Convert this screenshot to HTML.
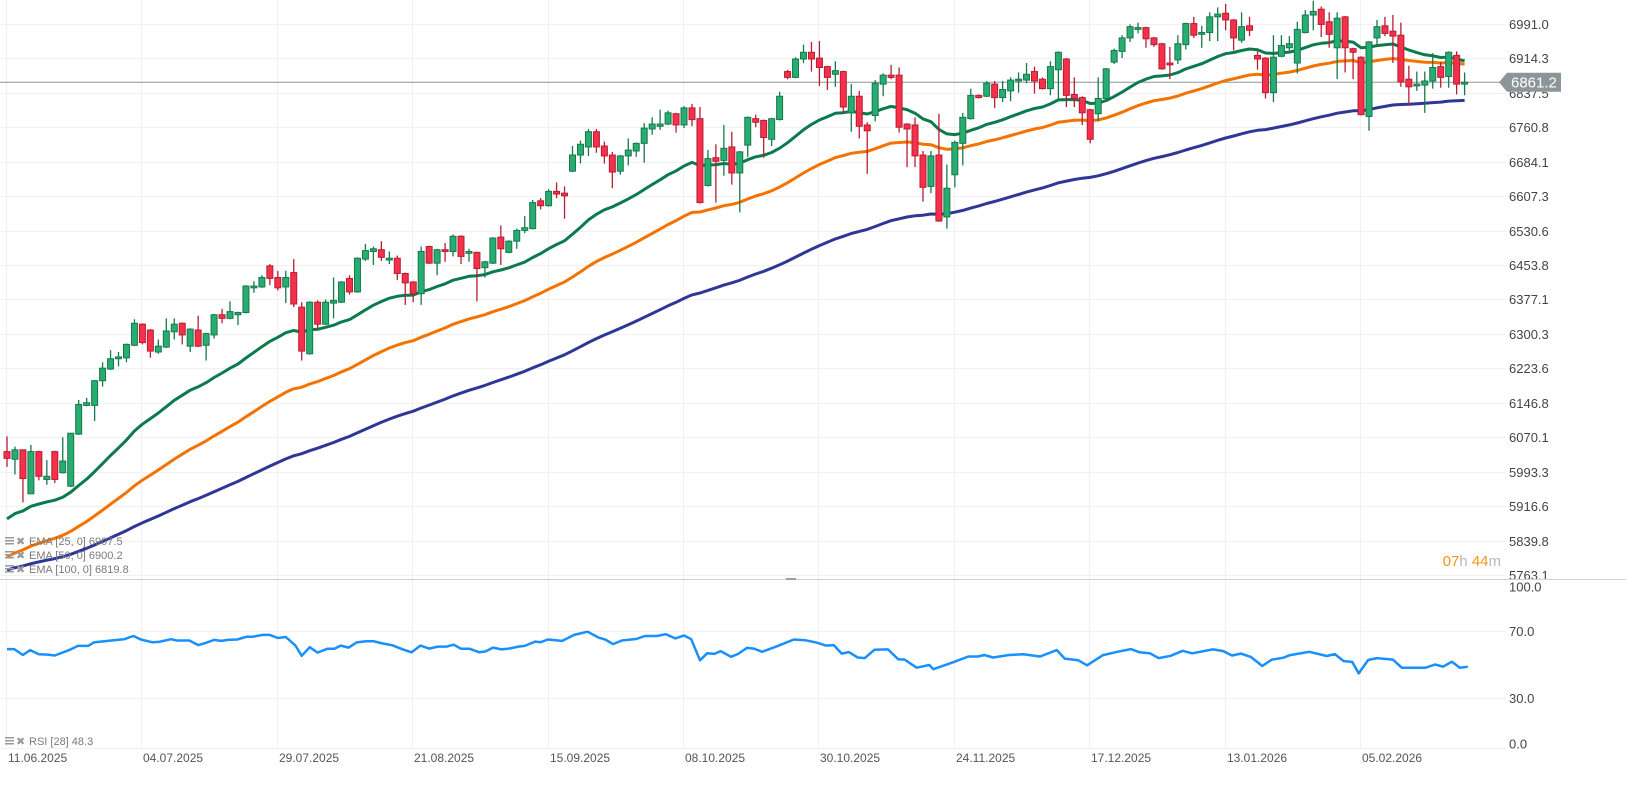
<!DOCTYPE html>
<html>
<head>
<meta charset="utf-8">
<style>
body{margin:0;background:#fff;font-family:"Liberation Sans",sans-serif}
svg{display:block}
</style>
</head>
<body>
<svg id="chart" width="1626" height="802" xmlns="http://www.w3.org/2000/svg" font-family="Liberation Sans, sans-serif">
  <defs>
    <clipPath id="mainClip"><rect x="0" y="0" width="1506" height="579"/></clipPath>
    <clipPath id="rsiClip"><rect x="0" y="580" width="1506" height="170"/></clipPath>
  </defs>
  <g id="grid"></g>
  <g id="priceAxis"></g>
  <g id="rsiAxis"></g>
  <g id="dateAxis"></g>
  <line x1="0" y1="579.5" x2="1626" y2="579.5" stroke="#cfd2d4" stroke-width="1"/>
  <rect x="786" y="578" width="10" height="2" fill="#9aa0a4"/>
  <line id="curLine" x1="0" x2="1506" stroke="#8d9599" stroke-width="1"/>
  <g id="emas" clip-path="url(#mainClip)"></g>
  <g id="candles" clip-path="url(#mainClip)"></g>
  <g id="rsi" clip-path="url(#rsiClip)"></g>
  <g id="pill"></g>

  <g font-size="11" fill="#7a7a7a">
    <g>
      <rect x="5" y="537" width="9" height="1.5" fill="#9a9a9a"/><rect x="5" y="540" width="9" height="1.5" fill="#9a9a9a"/><rect x="5" y="543" width="9" height="1.5" fill="#9a9a9a"/>
      <text x="16" y="545" fill="#9a9a9a" font-size="11">✖</text>
      <text x="29" y="545">EMA [25, 0] 6907.5</text>
    </g>
    <g>
      <rect x="5" y="551" width="9" height="1.5" fill="#9a9a9a"/><rect x="5" y="554" width="9" height="1.5" fill="#9a9a9a"/><rect x="5" y="557" width="9" height="1.5" fill="#9a9a9a"/>
      <text x="16" y="559" fill="#9a9a9a" font-size="11">✖</text>
      <text x="29" y="559">EMA [50, 0] 6900.2</text>
    </g>
    <g>
      <rect x="5" y="565" width="9" height="1.5" fill="#9a9a9a"/><rect x="5" y="568" width="9" height="1.5" fill="#9a9a9a"/><rect x="5" y="571" width="9" height="1.5" fill="#9a9a9a"/>
      <text x="16" y="573" fill="#9a9a9a" font-size="11">✖</text>
      <text x="29" y="573">EMA [100, 0] 6819.8</text>
    </g>
  </g>
  <g font-size="11" fill="#7a7a7a">
    <rect x="5" y="737" width="9" height="1.5" fill="#9a9a9a"/><rect x="5" y="740" width="9" height="1.5" fill="#9a9a9a"/><rect x="5" y="743" width="9" height="1.5" fill="#9a9a9a"/>
    <text x="16" y="745" fill="#9a9a9a">✖</text>
    <text x="29" y="745">RSI [28] 48.3</text>
  </g>
  <text x="1501" y="566" text-anchor="end" font-size="15"><tspan fill="#f7931a">07</tspan><tspan fill="#b8b8b8">h </tspan><tspan fill="#f7931a">44</tspan><tspan fill="#b8b8b8">m</tspan></text>
</svg>
<script>
const priceTicks=[6991.0,6914.3,6837.5,6760.8,6684.1,6607.3,6530.6,6453.8,6377.1,6300.3,6223.6,6146.8,6070.1,5993.3,5916.6,5839.8,5763.1];
const rsiTicks=[100,70,30,0];
const dateLabels=["11.06.2025","04.07.2025","29.07.2025","21.08.2025","15.09.2025","08.10.2025","30.10.2025","24.11.2025","17.12.2025","13.01.2026","05.02.2026"];
const dateIdx=[0,17,34,51,68,85,102,119,136,153,170];

const open=[6038,6021,6042,5944,6038,5976,6038,5991,5961,6077,
6141,6141,6196,6222,6245,6247,6275,6322,6309,6260,
6271,6305,6324,6273,6309,6275,6298,6343,6335,6343,
6348,6403,6405,6452,6426,6405,6437,6360,6256,6371,
6322,6369,6371,6424,6394,6467,6484,6488,6465,6469,
6435,6416,6390,6495,6458,6488,6484,6518,6480,6482,
6448,6458,6516,6482,6507,6531,6535,6597,6586,6618,
6614,6663,6699,6717,6751,6719,6699,6663,6697,6708,
6725,6757,6763,6768,6791,6766,6804,6780,6631,6693,
6687,6717,6659,6721,6780,6776,6734,6778,6885,6872,
6913,6928,6915,6896,6879,6885,6793,6830,6766,6787,
6857,6877,6877,6768,6766,6699,6629,6699,6561,6655,
6725,6780,6832,6830,6857,6827,6842,6864,6866,6885,
6868,6847,6889,6913,6834,6827,6800,6791,6825,6906,
6930,6960,6979,6983,6960,6947,6904,6911,6945,6992,
6968,6972,7007,7015,7000,6955,6987,6921,6915,6838,
6919,6938,6904,6972,7011,7024,6996,6938,7007,6936,
6917,6785,6960,6987,6975,6966,6868,6853,6855,6864,
6896,6874,6921,6857];
const high=[6072,6049,6042,6053,6040,6019,6040,6070,6079,6153,
6158,6198,6237,6264,6260,6279,6333,6324,6311,6288,
6335,6335,6326,6313,6341,6303,6345,6356,6373,6350,
6409,6418,6431,6456,6441,6441,6467,6371,6373,6375,
6377,6426,6418,6431,6471,6501,6495,6507,6484,6475,
6437,6418,6495,6497,6490,6503,6522,6520,6490,6484,
6463,6516,6542,6509,6535,6563,6599,6603,6623,6638,
6629,6719,6731,6757,6757,6729,6706,6699,6736,6727,
6770,6783,6800,6798,6793,6808,6813,6806,6710,6723,
6766,6751,6708,6785,6789,6778,6782,6840,6889,6917,
6945,6951,6953,6898,6908,6887,6857,6842,6772,6866,
6881,6900,6894,6770,6783,6708,6708,6791,6678,6731,
6793,6847,6834,6864,6864,6864,6872,6883,6904,6896,
6872,6908,6930,6915,6872,6830,6802,6872,6893,6936,
6966,6990,6994,6985,6962,6949,6940,6966,6994,7007,
6987,7017,7028,7036,7002,7017,7007,6930,6917,6966,
6966,6964,6996,7022,7043,7030,7017,7017,7009,6938,
6919,6953,7000,7007,7011,6994,6898,6885,6885,6926,
6906,6930,6930,6883];
const low=[6004,5987,5925,5944,5974,5964,5968,5989,5959,6075,
6139,6106,6183,6220,6228,6237,6273,6277,6247,6256,
6269,6288,6277,6260,6271,6241,6290,6324,6333,6320,
6346,6392,6403,6409,6397,6369,6360,6241,6254,6313,
6320,6335,6369,6388,6392,6463,6454,6463,6456,6420,
6365,6371,6365,6456,6431,6461,6473,6456,6461,6373,
6426,6456,6454,6480,6490,6525,6533,6578,6584,6603,
6557,6661,6680,6697,6704,6680,6625,6655,6676,6695,
6682,6744,6755,6766,6749,6759,6763,6591,6629,6593,
6653,6633,6571,6695,6761,6693,6719,6776,6868,6870,
6904,6885,6853,6844,6851,6791,6751,6736,6657,6774,
6830,6868,6749,6672,6672,6595,6614,6550,6535,6627,
6676,6778,6825,6828,6804,6817,6819,6838,6859,6836,
6845,6832,6825,6806,6806,6766,6725,6774,6823,6902,
6915,6951,6970,6938,6940,6889,6868,6902,6934,6960,
6938,6953,6953,6977,6932,6949,6964,6889,6825,6817,
6917,6932,6881,6970,6977,6962,6938,6868,6883,6868,
6787,6753,6940,6964,6904,6851,6810,6842,6793,6847,
6849,6849,6834,6832];
const close=[6023,6042,5978,6038,5983,5983,5976,6017,6079,6143,
6147,6196,6224,6245,6249,6277,6324,6281,6262,6273,
6307,6322,6298,6311,6273,6301,6343,6335,6350,6348,
6407,6407,6426,6424,6403,6426,6367,6262,6371,6322,
6371,6375,6416,6394,6469,6486,6490,6471,6469,6435,
6414,6390,6484,6458,6488,6484,6518,6473,6484,6446,
6461,6514,6490,6507,6531,6537,6593,6586,6618,6612,
6608,6699,6723,6751,6717,6697,6661,6697,6710,6725,
6759,6768,6768,6793,6766,6804,6778,6593,6691,6685,
6714,6659,6706,6783,6772,6738,6780,6830,6872,6913,
6928,6913,6894,6872,6887,6806,6830,6763,6753,6859,
6877,6872,6761,6757,6697,6627,6697,6552,6625,6727,
6783,6832,6827,6859,6827,6845,6866,6868,6879,6864,
6847,6896,6928,6832,6825,6793,6734,6825,6891,6932,
6960,6985,6983,6958,6945,6891,6900,6947,6992,6966,
6972,7007,7013,7000,6960,6985,6977,6913,6838,6917,
6943,6947,6979,7011,7019,6990,6968,7004,6938,6928,
6789,6951,6985,6970,6964,6862,6851,6857,6864,6894,
6872,6928,6857,6861.2];

const emaPeriods=[25,50,100];
const emaSeeds=[5888,5803,5774];
const emaColors=["#0b7a4d","#f47300","#2f3796"];

const rsiIdx=[0,0.9,2.0,2.9,4.0,5.1,6.0,7.8,8.9,10.2,10.9,13.1,14.7,15.9,16.8,18.2,19.1,20.6,21.3,22.9,24.0,24.9,26.0,26.9,27.7,28.9,30.1,30.9,32.1,33.0,34.0,35.0,36.2,37.0,38.0,39.0,40.2,41.1,41.9,42.9,43.9,45.1,46.0,47.1,48.3,49.7,50.8,51.9,53.0,54.1,55.2,56.1,57.0,58.1,59.3,60.1,61.0,62.1,63.0,64.2,65.0,66.3,67.0,67.9,69.7,71.2,72.9,74.3,75.1,76.1,77.2,79.0,80.1,81.6,82.7,83.9,85.0,85.9,87.0,87.9,88.8,89.6,90.9,91.8,92.9,93.8,94.8,96.7,98.8,100.2,101.7,102.8,103.8,104.8,105.7,106.8,107.7,108.9,110.6,111.9,112.7,114.2,115.8,116.3,118.6,120.7,121.9,122.7,123.8,125.8,127.6,129.7,131.8,132.8,134.5,135.6,137.6,139.4,141.1,142.2,143.5,144.6,146.1,147.6,148.8,151.4,152.7,153.8,154.9,156.2,157.6,158.8,160.2,161.1,163.5,165.7,166.7,167.8,168.9,169.7,170.9,172.0,174.0,175.1,178.1,179.3,180.3,181.4,182.4,183.4];
const rsiVal=[59.2,59.2,55.7,58.6,56.1,55.9,55.4,58.6,61.1,61.1,63.2,64.3,65.1,67.0,64.9,63.3,63.5,65.1,64.3,64.3,61.6,62.8,64.7,64.1,64.7,64.9,66.6,66.6,67.7,67.7,65.8,66.4,61.4,55.2,60.3,57.1,59.4,59.4,61.3,60.1,63.2,63.9,63.9,62.6,61.6,59.0,57.3,61.3,59.5,60.7,60.7,61.8,59.4,59.4,57.3,57.8,60.1,59.0,59.5,60.7,61.1,63.7,63.3,64.9,64.1,67.7,69.6,66.0,64.9,62.2,64.3,65.2,67.0,67.0,68.1,65.6,67.3,65.1,52.5,56.7,56.3,58.0,54.6,56.3,59.9,59.5,57.6,60.9,64.9,64.5,63.0,61.3,61.6,56.5,57.4,54.2,53.8,58.8,59.0,53.1,52.9,48.1,49.7,47.2,51.0,54.8,54.8,55.7,54.2,55.7,56.1,54.8,58.6,53.5,52.5,49.5,55.6,57.6,59.2,57.3,56.7,53.8,55.2,58.2,56.7,59.0,58.0,55.4,56.5,54.4,49.1,52.9,54.0,55.6,57.6,55.1,56.2,52.1,51.5,44.7,52.7,53.8,52.9,48.1,48.1,50.0,48.7,51.7,48.1,48.7];

// axis functions
const X0=7, DX=7.965;
function xOf(i){return X0+i*DX;}
const P_TOP=6991.0, Y_TOP=24, PX_PER=0.4487;
function yP(p){return Y_TOP+(P_TOP-p)*PX_PER;}
function yR(v){return 631+(70-v)*1.675;}

const NS="http://www.w3.org/2000/svg";
function mk(tag,attrs,parent){const e=document.createElementNS(NS,tag);for(const k in attrs)e.setAttribute(k,attrs[k]);parent.appendChild(e);return e;}

const grid=document.getElementById('grid');
const priceAxis=document.getElementById('priceAxis');
const rsiAxis=document.getElementById('rsiAxis');
const dateAxis=document.getElementById('dateAxis');

// vertical grid + date labels
for(let k=0;k<dateLabels.length;k++){
  const x=Math.round(xOf(dateIdx[k]))-0.5;
  const gl=mk('line',{x1:x,y1:0,x2:x,y2:748,stroke:'#f0f1f2','stroke-width':1},grid);
  
  
  const t=mk('text',{x:x+1.5,y:762,'font-size':12,fill:'#555'},dateAxis);
  t.textContent=dateLabels[k];
  
  
}
// price grid + labels
for(const v of priceTicks){
  const y=Math.round(yP(v))+0.5;
  const gl=mk('line',{x1:0,y1:y,x2:1506,y2:y,stroke:'#f0f1f2','stroke-width':1},grid);
  
  
  const t=mk('text',{x:1509,y:y+4.5,'font-size':13,fill:'#444'},priceAxis);
  t.textContent=v.toFixed(1);
  
  
}
// rsi grid + labels
for(const v of rsiTicks){
  const y=Math.round(yR(v))+0.5;
  if(v<100){
    const gl=mk('line',{x1:0,y1:y,x2:1506,y2:y,stroke:'#f0f1f2','stroke-width':1},grid);
    
    
  }
  const cy=Math.min(744,Math.max(587,y));
  const t=mk('text',{x:1509,y:cy+4.5,'font-size':13,fill:'#444'},rsiAxis);
  t.textContent=v.toFixed(1);
  
  
}

// EMA lines
const emaG=document.getElementById('emas');
for(let e=0;e<emaPeriods.length;e++){
  const a=2/(emaPeriods[e]+1);
  let v=emaSeeds[e];
  let d='';
  for(let i=0;i<close.length;i++){
    if(i>0) v=a*close[i]+(1-a)*v;
    d+=(i?'L':'M')+xOf(i).toFixed(1)+','+yP(v).toFixed(1);
  }
  const p=mk('path',{d:d,fill:'none',stroke:emaColors[e],'stroke-width':3,'stroke-linejoin':'round'},emaG);
  
  
}

// candles
const cg=document.getElementById('candles');
for(let i=0;i<close.length;i++){
  const up=close[i]>=open[i];
  const fill=up?'#27ad72':'#f5304a';
  const brd=up?'#17784c':'#b81d33';
  const x=xOf(i);
  const w=mk('line',{x1:x,y1:yP(high[i]),x2:x,y2:yP(low[i]),stroke:brd,'stroke-width':1.3},cg);
  
  
  const top=yP(Math.max(open[i],close[i]));
  const h=Math.max(1.5,yP(Math.min(open[i],close[i]))-top);
  const r=mk('rect',{x:x-3,y:top,width:6,height:h,fill:fill,stroke:brd,'stroke-width':1},cg);
  
  
}

// current price
const last=close[close.length-1];
const cy=yP(last);
const cl=document.getElementById('curLine');
cl.setAttribute('y1',cy);cl.setAttribute('y2',cy);
const pill=document.getElementById('pill');
const pg=mk('polygon',{points:`1499,${cy} 1507,${cy-9.5} 1561,${cy-9.5} 1561,${cy+9.5} 1507,${cy+9.5}`,fill:'#8d9599'},pill);


const pt=mk('text',{x:1511,y:cy+5.5,'font-size':15,fill:'#fff'},pill);
pt.textContent=last.toFixed(1);



// RSI line
const rg=document.getElementById('rsi');
let rd='';
for(let k=0;k<rsiIdx.length;k++){
  rd+=(k?'L':'M')+xOf(rsiIdx[k]).toFixed(1)+','+yR(rsiVal[k]).toFixed(1);
}
const rp=mk('path',{d:rd,fill:'none',stroke:'#1890ff','stroke-width':2.5,'stroke-linejoin':'round'},rg);


</script>
</body>
</html>
